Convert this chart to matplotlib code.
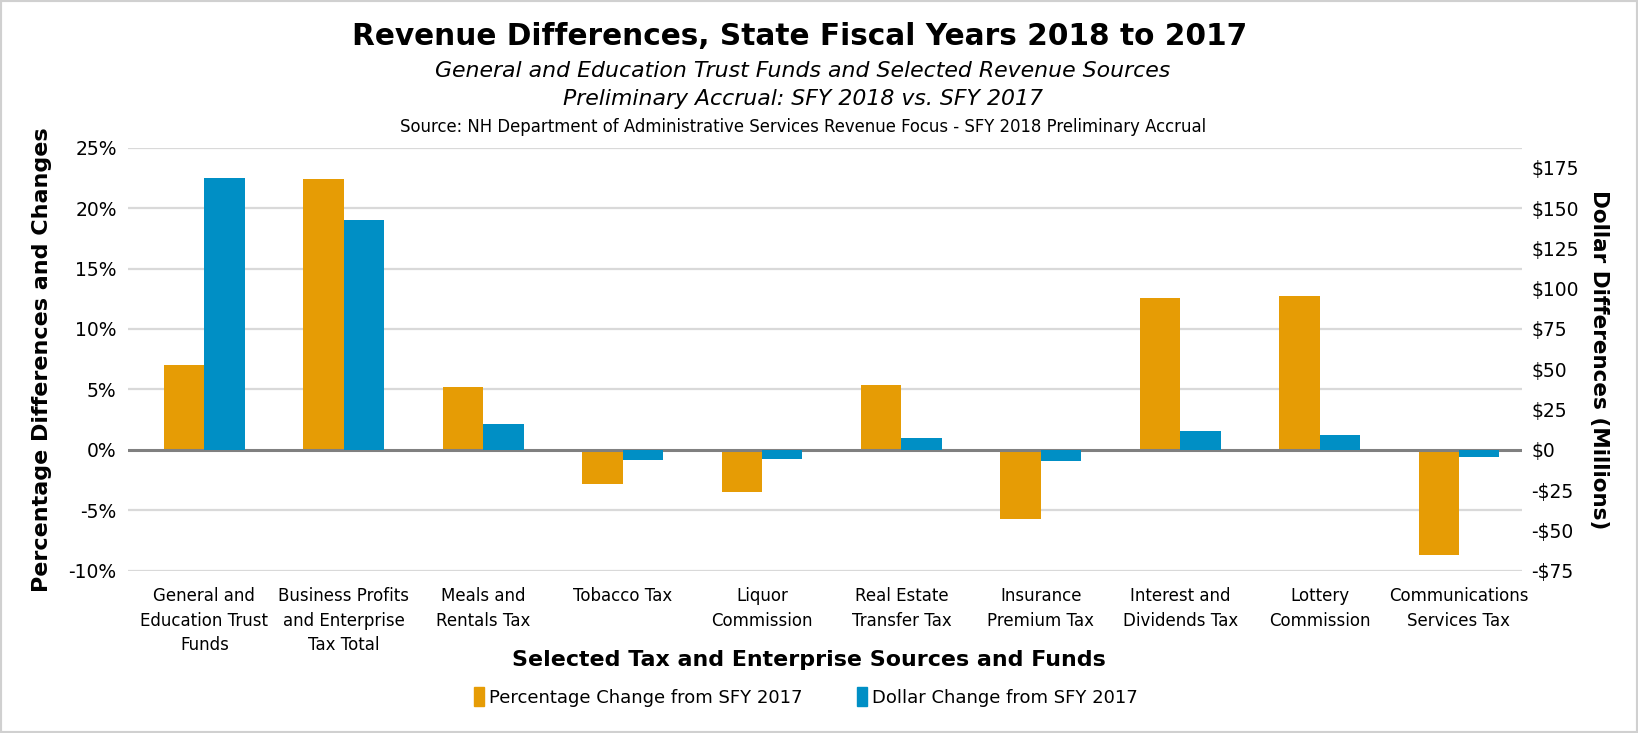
import numpy as np
import matplotlib.pyplot as plt
from matplotlib.patches import Patch, Rectangle

# categories and values
sources = ["General and\nEducation Trust\nFunds", "Business Profits\nand Enterprise\nTax Total",
           "Meals and\nRentals Tax", "Tobacco Tax", "Liquor\nCommission",
           "Real Estate\nTransfer Tax", "Insurance\nPremium Tax", "Interest and\nDividends Tax",
           "Lottery\nCommission", "Communications\nServices Tax"]
pct_change = [7.0, 22.4, 5.2, -2.8, -3.5, 5.4, -5.7, 12.6, 12.7, -8.7]      # percent
dollar_change = [168.4, 142.4, 16.3, -6.0, -5.4, 7.6, -7.1, 11.4, 9.5, -4.6]  # $ millions

pct_ticks = list(range(-10, 30, 5))
usd_ticks = list(range(-75, 200, 25))

orange = "#E69C05"
blue = "#008FC5"

plt.rcParams['font.family'] = ['DejaVu Sans']

fig = plt.figure(figsize=(16.38, 7.33), dpi=100)
fig.patches.append(Rectangle((0, 0), 1, 1, transform=fig.transFigure, fill=False,
                             edgecolor="#d0d0d0", linewidth=3))

ax = fig.add_axes([0.078, 0.2214, 0.851, 0.5771])
ax2 = ax.twinx()

x = np.arange(len(sources))
w = 0.29
ax.bar(x - w / 2, pct_change, w, color=orange, zorder=3)
ax2.bar(x + w / 2, dollar_change, w, color=blue, zorder=3)

ax.set_ylim(-10, 25)
ax2.set_ylim(-75, 187.5)
ax.set_xlim(-0.55, 9.45)
ax.set_yticks(pct_ticks)
ax.set_yticklabels([f"{t}%" for t in pct_ticks], fontsize=13.5)
ax2.set_yticks(usd_ticks)
ax2.set_yticklabels([f"${t}" if t >= 0 else f"-${-t}" for t in usd_ticks], fontsize=13.5)

ax.set_xticks(x)
ax.set_xticklabels(sources, fontsize=12, linespacing=1.45)

for t in pct_ticks:
    if t == 0:
        ax.axhline(t, color="#808080", linewidth=2.2, zorder=4)
    else:
        ax.axhline(t, color="#d9d9d9", linewidth=1.6, zorder=1)

for a in (ax, ax2):
    for s in a.spines.values():
        s.set_visible(False)
    a.tick_params(length=0)
ax.tick_params(axis='x', pad=12)
ax.tick_params(axis='y', pad=8)
ax2.tick_params(axis='y', pad=7)

ax.set_ylabel("Percentage Differences and Changes", fontsize=16, fontweight="bold", labelpad=12)
ax2.set_ylabel("Dollar Differences (Millions)", fontsize=15.5, fontweight="bold",
               rotation=270, labelpad=22)

fig.text(0.488, 0.950, "Revenue Differences, State Fiscal Years 2018 to 2017",
         ha="center", va="center", fontsize=21.3, fontweight="bold")
fig.text(0.490, 0.903, "General and Education Trust Funds and Selected Revenue Sources",
         ha="center", va="center", fontsize=15.8, style="italic")
fig.text(0.490, 0.865, "Preliminary Accrual: SFY 2018 vs. SFY 2017",
         ha="center", va="center", fontsize=15.8, style="italic")
fig.text(0.490, 0.827, "Source: NH Department of Administrative Services Revenue Focus - SFY 2018 Preliminary Accrual",
         ha="center", va="center", fontsize=11.9)
fig.text(0.494, 0.099, "Selected Tax and Enterprise Sources and Funds",
         ha="center", va="center", fontsize=15.9, fontweight="bold")

handles = [Patch(color=orange, label="Percentage Change from SFY 2017"),
           Patch(color=blue, label="Dollar Change from SFY 2017")]
fig.legend(handles=handles, loc="center", bbox_to_anchor=(0.492, 0.049), ncol=2,
           frameon=False, fontsize=13, handlelength=0.55, handleheight=1.2,
           handletextpad=0.3, columnspacing=3.0)

fig.savefig("out.png", dpi=100)
